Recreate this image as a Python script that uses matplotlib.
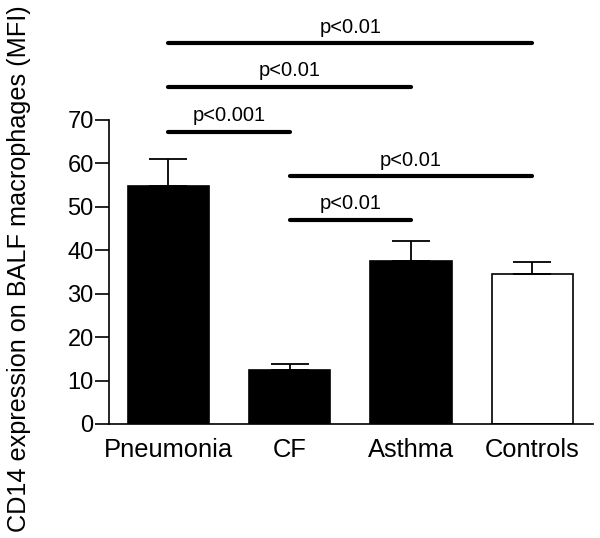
import numpy as np
import matplotlib
matplotlib.use("Agg")
import matplotlib.pyplot as plt

plt.rcParams["font.family"] = ["Liberation Sans", "DejaVu Sans"]

groups = ["Pneumonia", "CF", "Asthma", "Controls"]
means = [54.8, 12.4, 37.6, 34.6]
sem = [6.2, 1.4, 4.6, 2.7]

# significance brackets: (from group, to group, height, label)
comp_from = [0, 1, 1, 0, 0]
comp_to = [1, 3, 2, 2, 3]
comp_level = [67.3, 57.1, 47.0, 77.6, 87.7]
comp_text = ["p<0.001", "p<0.01", "p<0.01", "p<0.01", "p<0.01"]

colors = ["black", "black", "black", "white"]

fig = plt.figure(figsize=(6, 5.38), dpi=100)
ax = fig.add_axes([109/600, 114/538, 484/600, 424/538])

x = np.arange(len(groups))
ax.bar(x, means, width=0.67, color=colors, edgecolor="black", linewidth=1.2, zorder=2)
ax.errorbar(x, means, yerr=[np.zeros(len(sem)), sem], fmt="none", ecolor="black",
            elinewidth=1.3, capsize=14, capthick=1.3, zorder=3)

for a, b, lvl, t in zip(comp_from, comp_to, comp_level, comp_text):
    ax.plot([a, b], [lvl, lvl], color="black", lw=3, solid_capstyle="round")
    ax.text((a + b) / 2, lvl + 2.4, t, ha="center", va="baseline", fontsize=14.5)

ax.set_xlim(-0.49, 3.5)
ax.set_ylim(0, 97.6)
ax.set_yticks(range(0, 71, 10))
ax.set_xticks(x)
ax.set_xticklabels(groups)
ax.spines["top"].set_visible(False)
ax.spines["right"].set_visible(False)
ax.spines["left"].set_bounds(0, 70)
ax.spines["left"].set_linewidth(1.2)
ax.spines["bottom"].set_linewidth(1.2)
ax.tick_params(axis="y", length=10, width=1.2, pad=1, labelsize=17)
ax.tick_params(axis="x", length=0, pad=10, labelsize=18.4)
ax.set_ylabel("CD14 expression on BALF macrophages (MFI)", fontsize=18.2, va="center")
ax.yaxis.set_label_coords(-0.186, 0.366)

fig.savefig("out.png", dpi=100)
